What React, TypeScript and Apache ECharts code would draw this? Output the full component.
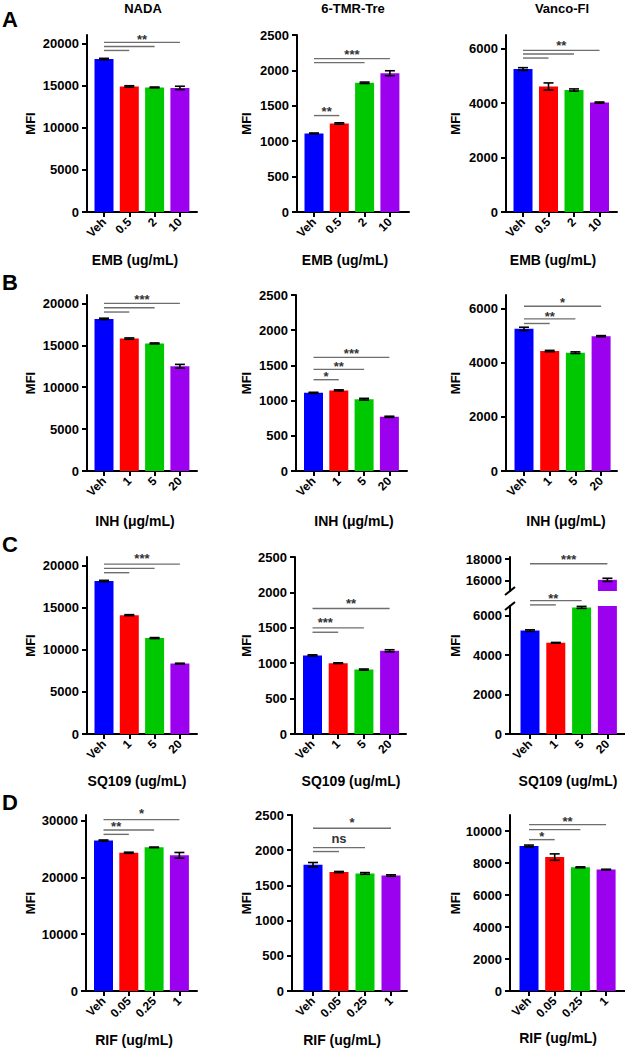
import React, { useEffect, useRef } from 'react';
import * as echarts from 'echarts';

const FONT = '"Liberation Sans", Arial, Helvetica, sans-serif';
const BAR_COLORS = ['#0000ff', '#ff0000', '#00c800', '#9b00ef'];

// ---------- categories & titles ----------
const probes = ['NADA', '6-TMR-Tre', 'Vanco-Fl'];
const panelLetters = ['A', 'B', 'C', 'D'];
const drugAxisTitles = ['EMB (ug/mL)', 'INH (\u03bcg/mL)', 'SQ109 (ug/mL)', 'RIF (ug/mL)'];
const embDoses = ['Veh', '0.5', '2', '10'];
const inhDoses = ['Veh', '1', '5', '20'];
const sqDoses = ['Veh', '1', '5', '20'];
const rifDoses = ['Veh', '0.05', '0.25', '1'];

// ---------- values (mean) and error (SD) ----------
const nadaEmb = [18150, 14900, 14780, 14720];
const nadaEmbErr = [80, 80, 50, 200];
const tmrEmb = [1110, 1250, 1825, 1960];
const tmrEmbErr = [6, 10, 10, 35];
const vancoEmb = [5250, 4610, 4480, 4020];
const vancoEmbErr = [50, 130, 40, 20];

const nadaInh = [18150, 15800, 15220, 12500];
const nadaInhErr = [80, 80, 60, 220];
const tmrInh = [1110, 1145, 1020, 770];
const tmrInhErr = [8, 8, 12, 8];
const vancoInh = [5250, 4430, 4370, 4980];
const vancoInhErr = [60, 25, 30, 20];

const nadaSq = [18150, 14100, 11380, 8350];
const nadaSqErr = [80, 60, 60, 50];
const tmrSq = [1110, 1000, 910, 1175];
const tmrSqErr = [8, 5, 8, 15];
const vancoSq = [5250, 4630, 6430, 16050];
const vancoSqErr = [40, 20, 50, 150];

const nadaRif = [26500, 24350, 25300, 23900];
const nadaRifErr = [100, 100, 50, 500];
const tmrRif = [1795, 1690, 1670, 1640];
const tmrRifErr = [30, 8, 12, 10];
const vancoRif = [9060, 8370, 7730, 7590];
const vancoRifErr = [60, 200, 30, 20];

// ---------- y tick labels ----------
const ticks20k = [0, 5000, 10000, 15000, 20000];
const ticks2500 = [0, 500, 1000, 1500, 2000, 2500];
const ticks6k = [0, 2000, 4000, 6000];
const ticksUpper = [16000, 18000];
const ticks30k = [0, 10000, 20000, 30000];
const ticks10k = [0, 2000, 4000, 6000, 8000, 10000];

// ---------- significance brackets: [fromIndex, toIndex, y] ----------
const sigNadaEmb = [[0, 3, 20120], [0, 2, 19640], [0, 1, 19165]];
const lblNadaEmb: any[] = [[1.5, 20790, '**']];
const sigTmrEmb = [[0, 1, 1362], [0, 3, 2166], [0, 2, 2110]];
const lblTmrEmb: any[] = [[0.5, 1466, '**'], [1.5, 2265, '***']];
const sigVancoEmb = [[0, 3, 5937], [0, 2, 5802], [0, 1, 5654]];
const lblVancoEmb: any[] = [[1.5, 6233, '**']];

const sigNadaInh = [[0, 3, 20000], [0, 2, 19486], [0, 1, 18968]];
const lblNadaInh: any[] = [[1.5, 20866, '***']];
const sigTmrInh = [[0, 3, 1614], [0, 2, 1443], [0, 1, 1297]];
const lblTmrInh: any[] = [[1.5, 1709, '***'], [1.0, 1520, '**'], [0.5, 1382, '*']];
const sigVancoInh = [[0, 3, 6085], [0, 2, 5617], [0, 1, 5448]];
const lblVancoInh: any[] = [[1.5, 6331, '*'], [1.0, 5816, '**']];

const sigNadaSq = [[0, 3, 20154], [0, 2, 19645], [0, 1, 19136]];
const lblNadaSq: any[] = [[1.5, 21183, '***']];
const sigTmrSq = [[0, 3, 1772], [0, 2, 1499], [0, 1, 1437]];
const lblTmrSq: any[] = [[1.5, 1886, '**'], [0.5, 1617, '***']];
const sigVancoSq = [[0, 3, 17570], [0, 2, 6773], [0, 1, 6556]];
const lblVancoSq: any[] = [[1.5, 18230, '***'], [0.9, 7056, '**']];

const sigNadaRif = [[0, 3, 30180], [0, 2, 28360], [0, 1, 27590]];
const lblNadaRif: any[] = [[1.5, 31757, '*'], [0.5, 29420, '**']];
const sigTmrRif = [[0, 3, 2311], [0, 2, 2037], [0, 1, 1981]];
const lblTmrRif: any[] = [[1.5, 2429, '*'], [1.0, 2146, 'ns']];
const sigVancoRif = [[0, 3, 10400], [0, 2, 10088], [0, 1, 9460]];
const lblVancoRif: any[] = [[1.5, 10778, '**'], [0.5, 9837, '*']];

type Panel = {
  cats: string[]; v: number[]; e: number[]; yMax: number; ticks: number[];
  sig: number[][]; lbl: any[];
  brk?: { min: number; max: number; ticks: number[] };
};

const panels: Panel[] = [
  { cats: embDoses, v: nadaEmb, e: nadaEmbErr, yMax: 21000, ticks: ticks20k, sig: sigNadaEmb, lbl: lblNadaEmb },
  { cats: embDoses, v: tmrEmb, e: tmrEmbErr, yMax: 2500, ticks: ticks2500, sig: sigTmrEmb, lbl: lblTmrEmb },
  { cats: embDoses, v: vancoEmb, e: vancoEmbErr, yMax: 6500, ticks: ticks6k, sig: sigVancoEmb, lbl: lblVancoEmb },
  { cats: inhDoses, v: nadaInh, e: nadaInhErr, yMax: 21000, ticks: ticks20k, sig: sigNadaInh, lbl: lblNadaInh },
  { cats: inhDoses, v: tmrInh, e: tmrInhErr, yMax: 2500, ticks: ticks2500, sig: sigTmrInh, lbl: lblTmrInh },
  { cats: inhDoses, v: vancoInh, e: vancoInhErr, yMax: 6500, ticks: ticks6k, sig: sigVancoInh, lbl: lblVancoInh },
  { cats: sqDoses, v: nadaSq, e: nadaSqErr, yMax: 21000, ticks: ticks20k, sig: sigNadaSq, lbl: lblNadaSq },
  { cats: sqDoses, v: tmrSq, e: tmrSqErr, yMax: 2500, ticks: ticks2500, sig: sigTmrSq, lbl: lblTmrSq },
  { cats: sqDoses, v: vancoSq, e: vancoSqErr, yMax: 6500, ticks: ticks6k, sig: sigVancoSq, lbl: lblVancoSq,
    brk: { min: 15000, max: 18200, ticks: ticksUpper } },
  { cats: rifDoses, v: nadaRif, e: nadaRifErr, yMax: 31000, ticks: ticks30k, sig: sigNadaRif, lbl: lblNadaRif },
  { cats: rifDoses, v: tmrRif, e: tmrRifErr, yMax: 2500, ticks: ticks2500, sig: sigTmrRif, lbl: lblTmrRif },
  { cats: rifDoses, v: vancoRif, e: vancoRifErr, yMax: 11000, ticks: ticks10k, sig: sigVancoRif, lbl: lblVancoRif },
];

// ---------- layout (pixels) ----------
const rowTop = [35, 295, 557, 815];
const rowBottom = [212, 471, 734, 991];
// [axisLeft, axisWidth, firstBarOffset, barSpacing]
const layout = [
  [87, 110, 17, 25.3], [297, 112, 17, 25.3], [506, 111, 17, 25.5],
  [87, 110, 17, 25.3], [296, 111, 17.5, 25.3], [506, 111, 18, 25.7],
  [87, 110, 17, 25.3], [295, 111, 17.5, 25.7], [510, 115, 20, 25.8],
  [86, 111, 17.5, 25.3], [292, 115, 21, 26], [510, 115, 19, 25.7],
];
const xTitlePos = [
  [135, 260], [345, 260], [553, 260],
  [135, 521], [354, 521], [566, 521],
  [137, 781], [351, 781], [568, 781],
  [134, 1040], [342, 1040], [558, 1038],
];
const mfiX = [30, 246, 455];
const probeX = [143, 353, 562];
const letterY = [19, 282, 544, 802];
const BREAK_LOWER_TOP = 606;
const BREAK_UPPER_BOTTOM = 591;

function buildOption() {
  const grid: any[] = [];
  const xAxis: any[] = [];
  const yAxis: any[] = [];
  const series: any[] = [];
  const graphic: any[] = [];

  const axisLineStyle = { color: '#000', width: 2 };
  const labelBase = { fontFamily: FONT, fontWeight: 'bold', color: '#000' };

  const errRender = (params: any, api: any) => {
    const x = api.value(0);
    const lo = api.coord([x, api.value(1)]);
    const hi = api.coord([x, api.value(2)]);
    const st = { stroke: '#000', lineWidth: 1.6 };
    return {
      type: 'group',
      children: [
        { type: 'line', shape: { x1: hi[0], y1: hi[1], x2: lo[0], y2: lo[1] }, style: st },
        { type: 'line', shape: { x1: hi[0] - 5, y1: hi[1], x2: hi[0] + 5, y2: hi[1] }, style: st },
        { type: 'line', shape: { x1: lo[0] - 5, y1: lo[1], x2: lo[0] + 5, y2: lo[1] }, style: st },
      ],
    };
  };
  const sigRender = (params: any, api: any) => {
    const y = api.value(2);
    const a = api.coord([api.value(0), y]);
    const b = api.coord([api.value(1), y]);
    return {
      type: 'line',
      shape: { x1: a[0], y1: a[1], x2: b[0], y2: b[1] },
      style: { stroke: '#6e6e6e', lineWidth: 1.4 },
    };
  };
  const lblRender = (texts: string[]) => (params: any, api: any) => {
    const t = texts[params.dataIndex];
    const p = api.coord([api.value(0), api.value(1)]);
    const star = t.indexOf('*') >= 0;
    return {
      type: 'text',
      x: p[0],
      y: p[1] + (star ? 3 : -1),
      style: {
        text: t, font: `bold 13px ${FONT}`, fill: '#333',
        textAlign: 'center', textVerticalAlign: 'middle', align: 'center', verticalAlign: 'middle',
      },
    };
  };

  const addGrid = (p: Panel, lay: number[], top: number, bottom: number, yMin: number, yMax: number,
    ticks: number[], showX: boolean, keep: (y: number) => boolean) => {
    const [left, width, off, sp] = lay;
    grid.push({ left, top, width, height: bottom - top, containLabel: false, outerBoundsMode: 'none' });
    const gi = grid.length - 1;
    xAxis.push({
      gridIndex: gi, type: 'value', min: -off / sp, max: (width - off) / sp,
      show: showX,
      axisLine: { show: showX, onZero: false, lineStyle: axisLineStyle },
      axisTick: { show: showX, customValues: [0, 1, 2, 3], length: 5, lineStyle: axisLineStyle },
      axisLabel: {
        show: showX, customValues: [0, 1, 2, 3], rotate: 45, margin: 8, fontSize: 12, ...labelBase,
        formatter: (v: number) => p.cats[Math.round(v)] ?? '',
      },
      splitLine: { show: false },
    });
    yAxis.push({
      gridIndex: gi, type: 'value', min: yMin, max: yMax,
      axisLine: { show: true, onZero: false, lineStyle: axisLineStyle },
      axisTick: { show: true, customValues: ticks, length: 5, lineStyle: axisLineStyle },
      axisLabel: {
        customValues: ticks, margin: 8, fontSize: 13, ...labelBase,
        formatter: (v: number) => String(Math.round(v)),
      },
      splitLine: { show: false },
    });

    const barData = p.v
      .map((v, k) => ({ value: [k, v], itemStyle: { color: BAR_COLORS[k] } }))
      .filter((d) => d.value[1] > yMin);
    series.push({
      type: 'bar', xAxisIndex: gi, yAxisIndex: gi, barWidth: 19, clip: true,
      data: barData, silent: true,
    });
    const errData = p.v
      .map((v, k) => [k, v - p.e[k], v + p.e[k]])
      .filter((d) => d[2] <= yMax && d[1] >= yMin);
    series.push({
      type: 'custom', xAxisIndex: gi, yAxisIndex: gi, renderItem: errRender, data: errData, silent: true, z: 5,
    });
    const sigData = p.sig.filter((s) => keep(s[2]));
    series.push({
      type: 'custom', xAxisIndex: gi, yAxisIndex: gi, renderItem: sigRender, data: sigData, silent: true, z: 5,
    });
    const lbls = p.lbl.filter((l) => keep(l[1]));
    series.push({
      type: 'custom', xAxisIndex: gi, yAxisIndex: gi, renderItem: lblRender(lbls.map((l) => l[2])),
      data: lbls.map((l) => [l[0], l[1]]), silent: true, z: 6,
    });
  };

  panels.forEach((p, i) => {
    const row = Math.floor(i / 3);
    const col = i % 3;
    const lay = layout[i];
    const top = rowTop[row];
    const bottom = rowBottom[row];
    if (p.brk) {
      const brk = p.brk;
      addGrid(p, lay, BREAK_LOWER_TOP, bottom, 0, p.yMax, p.ticks, true, (y) => y < brk.min);
      addGrid(p, lay, top, BREAK_UPPER_BOTTOM, brk.min, brk.max, brk.ticks, false, (y) => y >= brk.min);
      const ax = lay[0];
      const bs = { stroke: '#000', lineWidth: 2 };
      graphic.push({ type: 'line', shape: { x1: ax - 5, y1: BREAK_UPPER_BOTTOM + 4, x2: ax + 5, y2: BREAK_UPPER_BOTTOM - 4 }, style: bs });
      graphic.push({ type: 'line', shape: { x1: ax - 5, y1: BREAK_LOWER_TOP + 4, x2: ax + 5, y2: BREAK_LOWER_TOP - 4 }, style: bs });
    } else {
      addGrid(p, lay, top, bottom, 0, p.yMax, p.ticks, true, () => true);
    }
    // MFI title
    graphic.push({
      type: 'text', x: mfiX[col], y: (top + bottom) / 2, rotation: Math.PI / 2,
      style: { text: 'MFI', font: `bold 13px ${FONT}`, fill: '#000', textAlign: 'center', textVerticalAlign: 'middle' },
    });
    // x-axis title
    graphic.push({
      type: 'text', x: xTitlePos[i][0], y: xTitlePos[i][1],
      style: { text: drugAxisTitles[row], font: `bold 14px ${FONT}`, fill: '#000', textAlign: 'center', textVerticalAlign: 'middle' },
    });
  });

  probes.forEach((t, c) => {
    graphic.push({
      type: 'text', x: probeX[c], y: 8,
      style: { text: t, font: `bold 13px ${FONT}`, fill: '#000', textAlign: 'center', textVerticalAlign: 'middle' },
    });
  });
  panelLetters.forEach((t, r) => {
    graphic.push({
      type: 'text', x: 10, y: letterY[r],
      style: { text: t, font: `bold 22px ${FONT}`, fill: '#000', textAlign: 'center', textVerticalAlign: 'middle' },
    });
  });

  return {
    animation: false,
    backgroundColor: '#ffffff',
    textStyle: { fontFamily: FONT },
    grid, xAxis, yAxis, series, graphic,
  };
}

export default function App() {
  const ref = useRef<HTMLDivElement>(null);
  useEffect(() => {
    if (!ref.current) return;
    const chart = echarts.init(ref.current, undefined, { renderer: 'svg' });
    chart.setOption(buildOption() as any);
    return () => chart.dispose();
  }, []);
  return (
    <div
      ref={ref}
      style={{ position: 'fixed', left: 0, top: 0, width: 625, height: 1050, background: '#fff' }}
    />
  );
}
